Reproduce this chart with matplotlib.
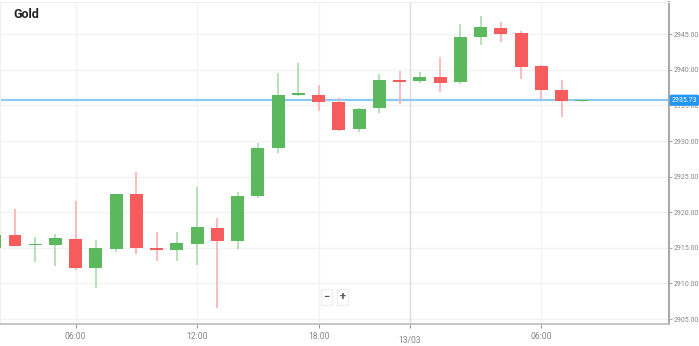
import matplotlib
matplotlib.use("Agg")
import matplotlib.pyplot as plt
import matplotlib.transforms as mtransforms
import numpy as np

plt.rcParams["font.family"] = ["Roboto", "DejaVu Sans"]

# hourly candles, 12/03 02:00 -> 13/03 08:00 (23:00 missing, market break)
opens = [2914.96, 2916.80, 2915.39, 2915.40, 2916.23, 2912.16, 2914.82, 2922.54, 2915.00, 2914.68,
         2915.53, 2917.77, 2915.95, 2922.26, 2929.00, 2936.50, 2936.44, 2935.46, 2931.67, 2934.60,
         2938.50, 2938.40, 2938.96, 2938.26, 2944.58, 2945.84, 2945.14, 2940.50, 2937.14, 2935.60]
highs = [2917.00, 2920.44, 2916.51, 2916.93, 2921.56, 2916.09, 2922.60, 2925.63, 2917.21, 2917.21,
         2923.53, 2919.18, 2922.82, 2929.70, 2939.53, 2940.93, 2937.84, 2936.02, 2934.61, 2939.39,
         2939.81, 2939.67, 2941.77, 2946.40, 2947.53, 2946.68, 2945.42, 2940.65, 2938.54, 2935.90]
lows = [2914.80, 2915.20, 2913.00, 2912.44, 2911.88, 2909.35, 2914.40, 2914.12, 2913.14, 2913.14,
        2912.58, 2906.54, 2914.82, 2921.98, 2928.30, 2936.30, 2934.19, 2931.39, 2931.25, 2933.91,
        2935.18, 2938.12, 2936.86, 2937.98, 2943.46, 2943.88, 2938.68, 2935.88, 2933.35, 2935.55]
closes = [2916.79, 2915.25, 2915.53, 2916.37, 2912.16, 2914.96, 2922.54, 2914.96, 2914.75, 2915.67,
          2917.91, 2915.95, 2922.26, 2929.00, 2936.44, 2936.60, 2935.46, 2931.53, 2934.47, 2938.54,
          2938.35, 2938.96, 2938.12, 2944.58, 2945.98, 2945.00, 2940.37, 2937.14, 2935.60, 2935.73]

last_price = 2935.73
tick_pos = [4, 10, 16, 20.5, 27]
tick_labels = ["06:00", "12:00", "18:00", "13/03", "06:00"]
y_ticks = [2905, 2910, 2915, 2920, 2925, 2930, 2935, 2940, 2945]

green = "#5cb85c"
red = "#f75c5c"

fig = plt.figure(figsize=(6.99, 3.46), dpi=100)
ax = fig.add_axes([0.0, 0.0636, 0.957, 0.930])

x = np.arange(len(opens))
width = 0.64
for i in x:
    o, h, l, c = opens[i], highs[i], lows[i], closes[i]
    up = c >= o
    col = green if up else red
    wick = "#a9dba9" if up else "#fbb0b0"
    ax.vlines(i, l, h, color=wick, linewidth=1.2, zorder=2)
    bottom = min(o, c)
    height = max(abs(c - o), 0.2)
    ax.bar(i, height, width=width, bottom=bottom, color=col, linewidth=0, zorder=3)

ax.axhline(last_price, color="#8fcaf5", linewidth=1.6, zorder=1.5)

ax.set_xlim(0.26, 33.3)
ax.set_ylim(2904.3, 2949.5)

for yv in y_ticks:
    ax.axhline(yv, color="#f2f2f2", linewidth=1, zorder=0)
for xp, lab in zip(tick_pos, tick_labels):
    ax.axvline(xp, color="#dddddd" if lab == "13/03" else "#f2f2f2", linewidth=1, zorder=0)

ax.set_xticks(tick_pos)
ax.set_xticklabels(tick_labels)
ax.tick_params(axis="x", length=3, color="#999999", labelsize=6.2, labelcolor="#888888", pad=2.5)
ax.xaxis.get_major_ticks()[3].set_pad(6)

ax.yaxis.tick_right()
ax.set_yticks(y_ticks)
ax.set_yticklabels([f"{v:.2f}" for v in y_ticks])
ax.tick_params(axis="y", length=2.5, color="#aaaaaa", labelsize=5.0, labelcolor="#888888", pad=1)

ax.spines["right"].set_color("#aaaaaa")
ax.spines["right"].set_linewidth(1.5)
ax.spines["bottom"].set_color("#bbbbbb")
ax.spines["bottom"].set_linewidth(1.2)
ax.spines["top"].set_color("#eeeeee")
ax.spines["left"].set_color("#eeeeee")

# current price tag
trans = mtransforms.blended_transform_factory(ax.transAxes, ax.transData)
ax.text(1.004, last_price, f"{last_price:.2f}", transform=trans, fontsize=5.0, color="white",
        va="center", ha="left", zorder=6, clip_on=False,
        bbox=dict(boxstyle="round,pad=0.2,rounding_size=0.2", fc="#2196f3", ec="#2196f3"))

# zoom buttons
for xt, s in [(0.488, "\u2212"), (0.512, "+")]:
    ax.text(xt, 0.084, s, transform=ax.transAxes, fontsize=8, fontweight="bold", color="#555555",
            ha="center", va="center", zorder=6,
            bbox=dict(boxstyle="square,pad=0.25", fc="white", ec="#eeeeee"))

fig.text(13 / 699, 1 - 15 / 346, "Gold", fontsize=9, fontweight="bold", color="#222222",
         va="center", ha="left")

fig.savefig("out.png", dpi=100, facecolor="white")
